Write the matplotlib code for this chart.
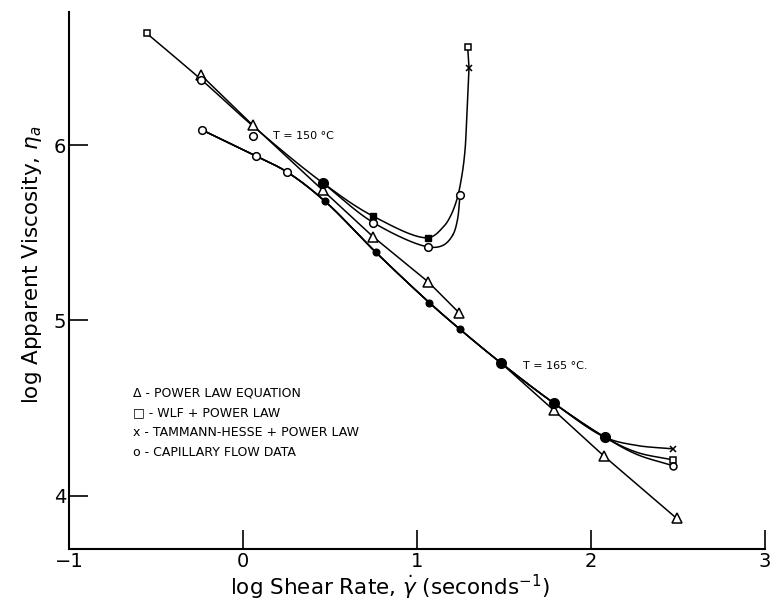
import numpy as np
import matplotlib
matplotlib.use("Agg")
import matplotlib.pyplot as plt

# ---------------- data ----------------
# T = 150 C
pl150_x = [-0.241, 0.056, 0.458, 0.749, 1.065, 1.243]
pl150_y = [6.400, 6.114, 5.743, 5.476, 5.219, 5.042]

model150_x = [-0.553, -0.241, 0.056, 0.458, 0.749, 1.065]
model150_y = [6.638, 6.375, 6.110, 5.785, 5.594, 5.472]
th150_tail_x = [1.151, 1.190, 1.228, 1.257, 1.276, 1.286, 1.299]
th150_tail_y = [5.533, 5.590, 5.686, 5.820, 5.971, 6.162, 6.442]
wlf150_end_x = [1.291]
wlf150_end_y = [6.562]

cap150_x = [0.458, 0.749, 1.065, 1.151, 1.205, 1.232, 1.247]
cap150_y = [5.785, 5.558, 5.419, 5.429, 5.486, 5.571, 5.714]
cap150_pts_x = [-0.241, 0.059, 0.749, 1.065, 1.247]
cap150_pts_y = [6.370, 6.050, 5.558, 5.419, 5.714]

# T = 165 C
data165_x = [-0.234, 0.073, 0.253, 0.471, 0.763, 1.071, 1.247, 1.481, 1.787, 2.080]
data165_y = [6.086, 5.939, 5.847, 5.680, 5.389, 5.101, 4.949, 4.758, 4.527, 4.333]
open165_x = [-0.234, 0.073, 0.253]
open165_y = [6.086, 5.939, 5.847]
th165_tail_x = [2.263, 2.469]
th165_tail_y = [4.286, 4.267]
wlf165_tail_x = [2.263, 2.469]
wlf165_tail_y = [4.247, 4.204]
cap165_tail_x = [2.263, 2.469]
cap165_tail_y = [4.235, 4.171]

pl165_x = [1.481, 1.787, 2.075, 2.492]
pl165_y = [4.758, 4.486, 4.225, 3.870]

# coincident (overlapping) points rendered filled
big_dot_x = [0.458, 1.481, 1.787, 2.080]
big_dot_y = [5.785, 4.758, 4.527, 4.333]
small_dot_x = [0.471, 0.763, 1.071, 1.247]
small_dot_y = [5.680, 5.389, 5.101, 4.949]
filled_sq_x = [0.749, 1.065]
filled_sq_y = [5.594, 5.472]

legend_labels = ["\u0394 - POWER LAW EQUATION",
                 "\u25a1 - WLF + POWER LAW",
                 "x - TAMMANN-HESSE + POWER LAW",
                 "o - CAPILLARY FLOW DATA"]

xticks = [-1, 0, 1, 2, 3]
xticklabels = ["\u22121", "0", "1", "2", "3"]
yticks = [4, 5, 6]


def smooth(x, y, n=24):
    """Centripetal Catmull-Rom curve through the given points (line rendering only)."""
    P = np.column_stack([x, y]).astype(float)
    if len(P) < 3:
        return P[:, 0], P[:, 1]
    P = np.vstack([2 * P[0] - P[1], P, 2 * P[-1] - P[-2]])
    xs, ys = [], []
    for i in range(1, len(P) - 2):
        p0, p1, p2, p3 = P[i - 1], P[i], P[i + 1], P[i + 2]
        t0 = 0.0
        t1 = t0 + max(np.linalg.norm(p1 - p0), 1e-9) ** 0.5
        t2 = t1 + max(np.linalg.norm(p2 - p1), 1e-9) ** 0.5
        t3 = t2 + max(np.linalg.norm(p3 - p2), 1e-9) ** 0.5
        t = np.linspace(t1, t2, n)[:, None]
        A1 = (t1 - t) / (t1 - t0) * p0 + (t - t0) / (t1 - t0) * p1
        A2 = (t2 - t) / (t2 - t1) * p1 + (t - t1) / (t2 - t1) * p2
        A3 = (t3 - t) / (t3 - t2) * p2 + (t - t2) / (t3 - t2) * p3
        B1 = (t2 - t) / (t2 - t0) * A1 + (t - t0) / (t2 - t0) * A2
        B2 = (t3 - t) / (t3 - t1) * A2 + (t - t1) / (t3 - t1) * A3
        C = (t2 - t) / (t2 - t1) * B1 + (t - t1) / (t2 - t1) * B2
        xs.append(C[:, 0]); ys.append(C[:, 1])
    return np.concatenate(xs), np.concatenate(ys)


fig = plt.figure(figsize=(7.71, 6.02), dpi=100)
ax = fig.add_axes([69 / 771, 53 / 602, 696 / 771, 537 / 602])

lw = 1.1
k = "black"

# T=150 lines
ax.plot(pl150_x, pl150_y, color=k, lw=lw)
mx, my = smooth(model150_x + th150_tail_x, model150_y + th150_tail_y)
ax.plot(mx, my, color=k, lw=lw)
ax.plot([th150_tail_x[-1], wlf150_end_x[0]], [th150_tail_y[-1], wlf150_end_y[0]], color=k, lw=lw)
cx, cy = smooth(cap150_x, cap150_y)
ax.plot(cx, cy, color=k, lw=lw)

# T=165 lines
for tx, ty in [(th165_tail_x, th165_tail_y), (wlf165_tail_x, wlf165_tail_y),
               (cap165_tail_x, cap165_tail_y)]:
    sx, sy = smooth(data165_x + tx, data165_y + ty)
    ax.plot(sx, sy, color=k, lw=lw)
ax.plot(pl165_x, pl165_y, color=k, lw=lw)

# markers
ms_open = dict(color=k, mfc="white", mew=1.1, ls="none", zorder=5)
ax.plot(pl150_x, pl150_y, marker="^", ms=7, **ms_open)
ax.plot(pl165_x[1:], pl165_y[1:], marker="^", ms=7, **ms_open)
ax.plot(cap150_pts_x, cap150_pts_y, marker="o", ms=5.5, **ms_open)
ax.plot(open165_x, open165_y, marker="o", ms=5.5, **ms_open)
ax.plot(wlf150_end_x, wlf150_end_y, marker="s", ms=4.5, **ms_open)
ax.plot(wlf165_tail_x[-1:], wlf165_tail_y[-1:], marker="s", ms=4.5, **ms_open)
ax.plot(cap165_tail_x[-1:], cap165_tail_y[-1:], marker="o", ms=5, **ms_open)
ax.plot(model150_x[:1], model150_y[:1], marker="s", ms=4.5, **ms_open)
ax.plot(th150_tail_x[-1:], th150_tail_y[-1:], marker="x", ms=5, color=k, mew=1.1, ls="none", zorder=6)
ax.plot(th165_tail_x[-1:], th165_tail_y[-1:], marker="x", ms=5, color=k, mew=1.1, ls="none", zorder=6)

ax.plot(big_dot_x, big_dot_y, marker="o", ms=7, color=k, ls="none", zorder=6)
ax.plot(small_dot_x, small_dot_y, marker="o", ms=4.8, color=k, ls="none", zorder=6)
ax.plot(filled_sq_x, filled_sq_y, marker="s", ms=5, color=k, ls="none", zorder=6)

# annotations
ax.text(0.172, 6.051, "T = 150 \u00b0C", fontsize=8, va="center", ha="left")
ax.text(1.609, 4.737, "T = 165 \u00b0C.", fontsize=8, va="center", ha="left")
leg_y = [4.587, 4.473, 4.362, 4.248]
for lab, yy in zip(legend_labels, leg_y):
    ax.text(-0.632, yy, lab, fontsize=9, va="center", ha="left")

# axes styling
ax.set_xlim(-1, 3)
ax.set_ylim(3.695, 6.76)
ax.set_xticks(xticks)
ax.set_yticks(yticks)
ax.set_xticklabels(xticklabels)
for s in ["top", "right"]:
    ax.spines[s].set_visible(False)
for s in ["left", "bottom"]:
    ax.spines[s].set_linewidth(1.5)
ax.tick_params(direction="in", length=14, width=1.2, labelsize=14, pad=2)

xl = ax.set_xlabel("log Shear Rate, $\\dot{\\gamma}$ (seconds$^{-1}$)", fontsize=15.5)
xl.set_verticalalignment("center")
ax.set_ylabel("log Apparent Viscosity, $\\eta_a$", fontsize=15.5)
ax.xaxis.set_label_coords(0.461, -0.071)
ax.yaxis.set_label_coords(-0.036, 0.529)

fig.savefig("out.png", dpi=100)
